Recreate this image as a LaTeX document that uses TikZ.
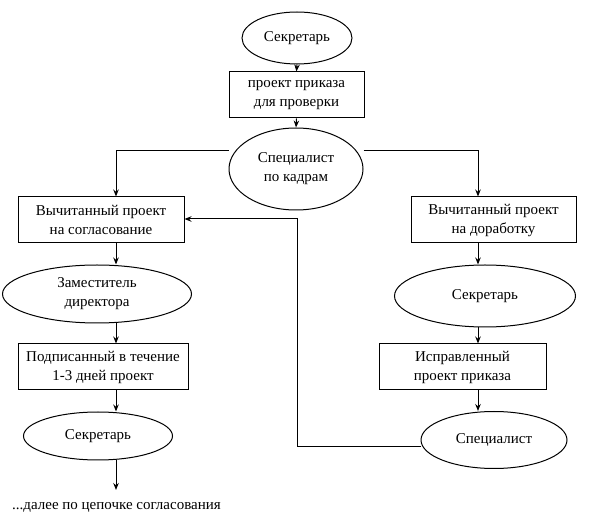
\documentclass[tikz,border=0pt]{standalone}
\usepackage{fontspec}
\setmainfont{Liberation Serif}
\usetikzlibrary{arrows.meta,shapes.geometric}
\begin{document}
\begin{tikzpicture}[x=1pt,y=-1pt,
  every node/.style={font=\fontsize{15}{19}\selectfont, align=center, inner sep=0pt},
  boxnode/.style={draw, line width=1pt, minimum height=46pt},
  ovalnode/.style={draw, ellipse, line width=1pt},
  conn/.style={line width=1pt, -{Stealth[length=7pt,width=5.5pt]}}]
\useasboundingbox (0,0) rectangle (592,526);
\node[ovalnode, minimum width=110pt, minimum height=52pt] (s1) at (297,38) {Секретарь};
\node[boxnode, minimum width=135pt] (b1) at (296.5,95) {проект приказа\\для проверки};
\node[ovalnode, minimum width=134pt, minimum height=82pt] (sp) at (296,169) {Специалист\\по кадрам};
\node[boxnode, minimum width=166pt] (bl) at (101,220) {Вычитанный проект\\на согласование};
\node[boxnode, minimum width=165pt] (br) at (493.5,220) {Вычитанный проект\\на доработку};
\node[ovalnode, minimum width=189pt, minimum height=58pt] (zd) at (97,294) {Заместитель\\директора};
\node[ovalnode, minimum width=181pt, minimum height=62pt] (s2) at (485,296) {Секретарь};
\node[boxnode, minimum width=170pt] (pd) at (103,367) {Подписанный в течение\\1-3 дней проект};
\node[boxnode, minimum width=167pt] (ip) at (462.5,367) {Исправленный\\проект приказа};
\node[ovalnode, minimum width=149pt, minimum height=48pt] (s3) at (98,436) {Секретарь};
\node[ovalnode, minimum width=146pt, minimum height=57pt] (sk) at (494,440) {Специалист};
\node[anchor=west] (dal) at (12,507) {...далее по цепочке согласования};
\coordinate (a1) at (116,151);
\coordinate (a2) at (478,151);
\coordinate (fb1) at (297,447);
\coordinate (fb2) at (297,219);
\coordinate (endd) at (116,490);
\draw[conn] (s1.south) -- (b1.north);
\draw[conn] (b1.south) -- (sp.north);
\draw[conn] (sp.west |- a1) -- (a1) -- (a1 |- bl.north);
\draw[conn] (sp.east |- a2) -- (a2) -- (a2 |- br.north);
\draw[conn] (bl.south -| a1) -- (a1 |- zd.north);
\draw[conn] (a1 |- zd.south) -- (a1 |- pd.north);
\draw[conn] (a1 |- pd.south) -- (a1 |- s3.north);
\draw[conn] (a1 |- s3.south) -- (endd);
\draw[conn] (br.south -| a2) -- (a2 |- s2.north);
\draw[conn] (a2 |- s2.south) -- (a2 |- ip.north);
\draw[conn] (a2 |- ip.south) -- (a2 |- sk.north);
\draw[conn] (sk.west |- fb1) -- (fb1) -- (fb2) -- (bl.east |- fb2);
\end{tikzpicture}
\end{document}
